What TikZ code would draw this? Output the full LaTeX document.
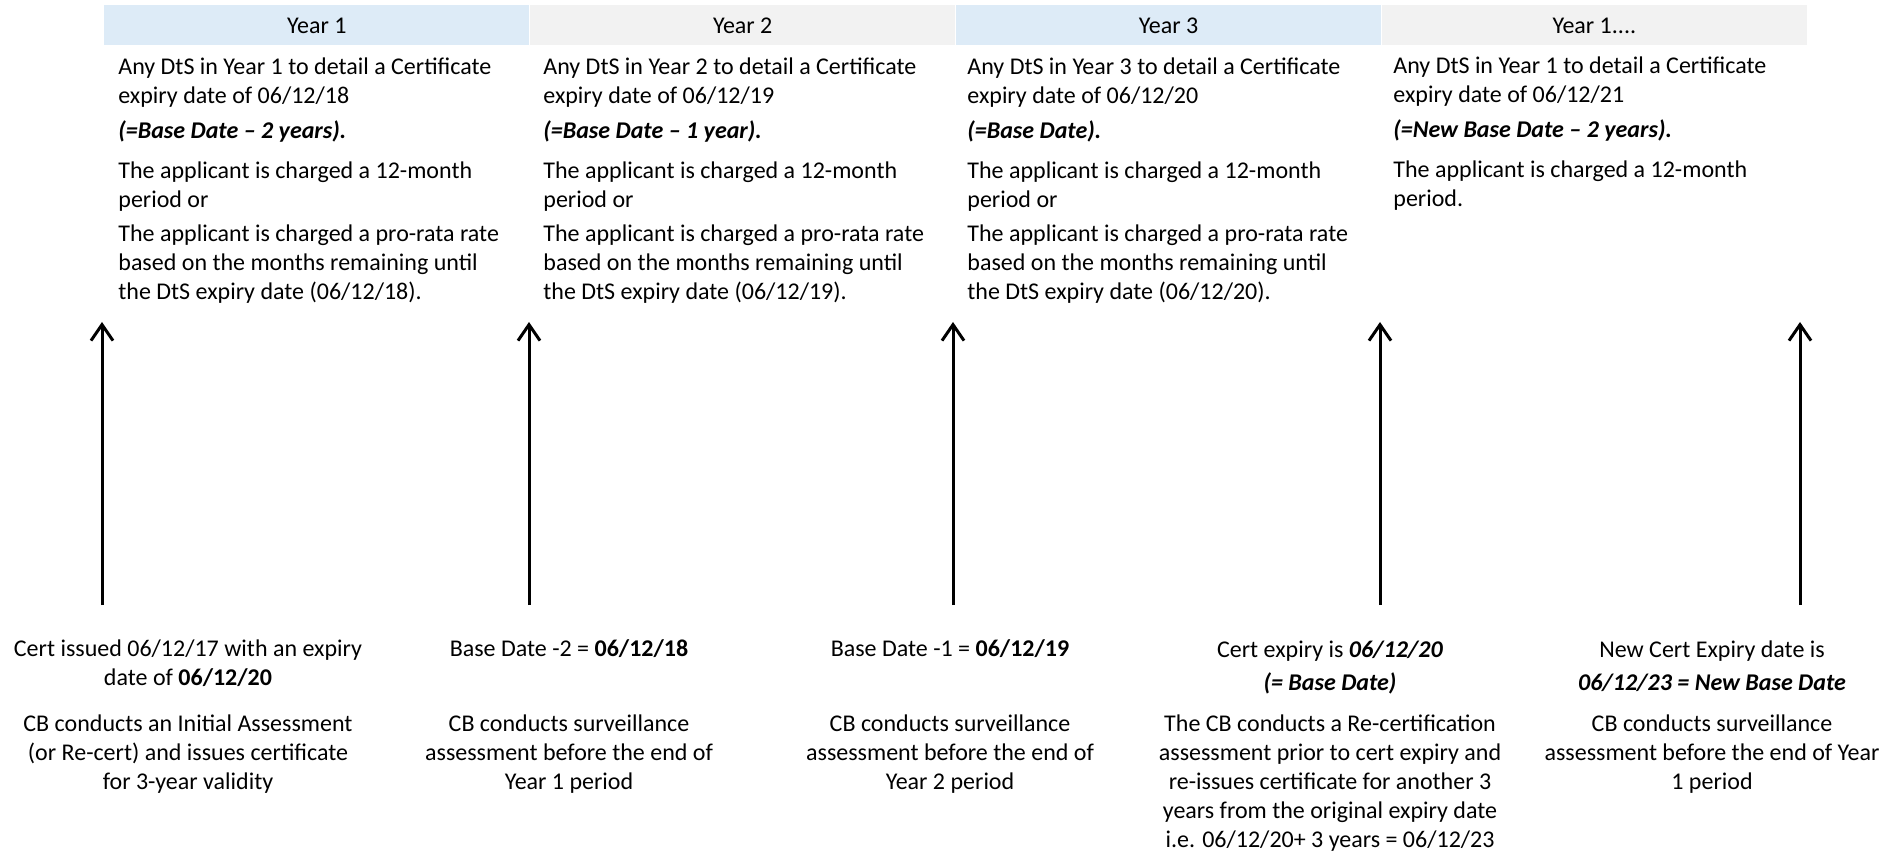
\documentclass[tikz,border=0pt]{standalone}
\usepackage{fontspec}
\setmainfont{Carlito}
\usetikzlibrary{arrows.meta, positioning}

\definecolor{hdrblue}{HTML}{DDEBF7}
\definecolor{hdrgray}{HTML}{F2F2F2}

% base anchor of a multi-line node = baseline of its last line
\tikzset{
    yearcell/.style={minimum width=212.5pt, minimum height=20pt, inner sep=0pt, anchor=north west},
    coltext/.style={anchor=base west, align=left, inner sep=0pt},
    evttext/.style={anchor=base, align=center, inner sep=0pt},
    tick/.style={-{Straight Barb[length=8pt, width=11pt]}, line width=1.5pt}
}

\begin{document}
\begin{tikzpicture}[x=0.5pt, y=-0.5pt, font=\fontsize{12}{14.5}\selectfont]
        \useasboundingbox (0,0) rectangle (1898,854);

        % year header
        \node[yearcell, fill=hdrblue] (y1) at (104,5) {Year 1};
        \node[yearcell, fill=hdrgray, right=0pt of y1] (y2) {Year 2};
        \node[yearcell, fill=hdrblue, right=0pt of y2] (y3) {Year 3};
        \node[yearcell, fill=hdrgray, right=0pt of y3] (y4) {Year 1....};

        % what the DtS shows in each year
        \node[coltext] (c1) at (118,300) {Any DtS in Year 1 to detail a Certificate\\ expiry date of 06/12/18\\[3pt]
            \textbf{\textit{(=Base Date -- 2 years).}}\\[5.5pt]
            The applicant is charged a 12-month\\ period or\\[2.5pt]
            The applicant is charged a pro-rata rate\\ based on the months remaining until\\ the DtS expiry date (06/12/18).};
        \node[coltext] (c2) at (543,300) {Any DtS in Year 2 to detail a Certificate\\ expiry date of 06/12/19\\[3pt]
            \textbf{\textit{(=Base Date -- 1 year).}}\\[5.5pt]
            The applicant is charged a 12-month\\ period or\\[2.5pt]
            The applicant is charged a pro-rata rate\\ based on the months remaining until\\ the DtS expiry date (06/12/19).};
        \node[coltext] (c3) at (967,300) {Any DtS in Year 3 to detail a Certificate\\ expiry date of 06/12/20\\[3pt]
            \textbf{\textit{(=Base Date).}}\\[5.5pt]
            The applicant is charged a 12-month\\ period or\\[2.5pt]
            The applicant is charged a pro-rata rate\\ based on the months remaining until\\ the DtS expiry date (06/12/20).};
        \node[coltext] (c4) at (1393,207) {Any DtS in Year 1 to detail a Certificate\\ expiry date of 06/12/21\\[3pt]
            \textbf{\textit{(=New Base Date -- 2 years).}}\\[5.5pt]
            The applicant is charged a 12-month\\ period.};

        % timeline arrows
        \coordinate (a1s) at (102,605);
        \coordinate (a1e) at (102,322);
        \coordinate (a2s) at (529,605);
        \coordinate (a2e) at (529,322);
        \coordinate (a3s) at (953,605);
        \coordinate (a3e) at (953,322);
        \coordinate (a4s) at (1380,605);
        \coordinate (a4e) at (1380,322);
        \coordinate (a5s) at (1800,605);
        \coordinate (a5e) at (1800,322);
        \draw[tick] (a1s) -- (a1e);
        \draw[tick] (a2s) -- (a2e);
        \draw[tick] (a3s) -- (a3e);
        \draw[tick] (a4s) -- (a4e);
        \draw[tick] (a5s) -- (a5e);

        % events below the arrows
        \node[evttext] (d1) at (188,685) {Cert issued 06/12/17 with an expiry\\ date of \textbf{06/12/20}};
        \node[evttext] (e1) at (188,789) {CB conducts an Initial Assessment\\ (or Re-cert) and issues certificate\\ for 3-year validity};
        \node[evttext] (d2) at (569,656) {Base Date -2 = \textbf{06/12/18}};
        \node[evttext] (e2) at (569,789) {CB conducts surveillance\\ assessment before the end of\\ Year 1 period};
        \node[evttext] (d3) at (950,656) {Base Date -1 = \textbf{06/12/19}};
        \node[evttext] (e3) at (950,789) {CB conducts surveillance\\ assessment before the end of\\ Year 2 period};
        \node[evttext] (d4) at (1330,690) {Cert expiry is \textbf{\textit{06/12/20}}\\[2pt] \textbf{\textit{(= Base Date)}}};
        \node[evttext] (e4) at (1330,847) {The CB conducts a Re-certification\\ assessment prior to cert expiry and\\ re-issues certificate for another 3\\ years from the original expiry date\\ i.e. 06/12/20+ 3 years = 06/12/23};
        \node[evttext] (d5) at (1712,690) {New Cert Expiry date is\\[2pt] \textbf{\textit{06/12/23 = New Base Date}}};
        \node[evttext] (e5) at (1712,789) {CB conducts surveillance\\ assessment before the end of Year\\ 1 period};
    \end{tikzpicture}
\end{document}
